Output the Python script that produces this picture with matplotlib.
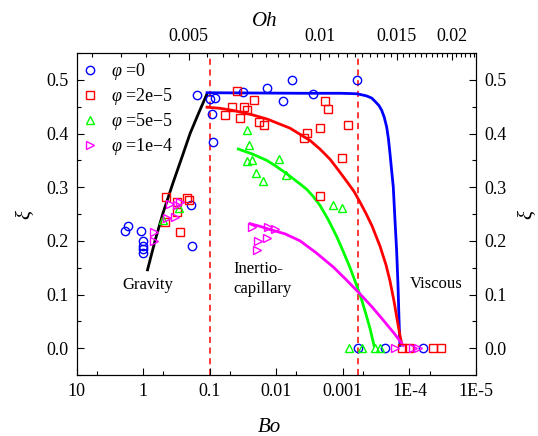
import matplotlib
matplotlib.use('Agg')
import matplotlib.pyplot as plt
import numpy as np
from matplotlib.ticker import FixedLocator, FixedFormatter, NullFormatter
from matplotlib.lines import Line2D

# Fonte tipo Times
plt.rcParams['font.family'] = 'Liberation Serif'
plt.rcParams['mathtext.fontset'] = 'custom'
plt.rcParams['mathtext.rm'] = 'Liberation Serif'
plt.rcParams['mathtext.it'] = 'Liberation Serif:italic'

# ---- pontos experimentais (Bo, xi) ----
blue_bo = [1.88, 1.68, 1.09, 1.0, 1.0, 1.0, 1.0, 0.192, 0.185, 0.157, 0.0993, 0.0836,
           0.0917, 0.0885, 0.0314, 0.01397, 0.00787, 0.00588, 0.00279, 6.08e-4,
           5.87e-4, 2.33e-4, 6.19e-5]
blue_xi = [0.219, 0.228, 0.219, 0.200, 0.191, 0.185, 0.177, 0.266, 0.191, 0.471, 0.464,
           0.467, 0.436, 0.385, 0.477, 0.484, 0.461, 0.500, 0.474, 0.500, 0.0, 0.0, 0.0]

red_bo = [0.455, 0.308, 0.222, 0.203, 0.308, 0.471, 0.281, 0.0394, 0.0214, 0.0459, 0.0306,
          0.0274, 0.0592, 0.0356, 0.018, 0.0152, 0.0035, 0.00384, 0.00221, 0.00184,
          0.00169, 8.3e-4, 1.04e-3, 0.00221, 1.31e-4, 1.0e-4, 4.38e-5, 3.36e-5]
red_xi = [0.281, 0.273, 0.280, 0.276, 0.253, 0.235, 0.216, 0.480, 0.463, 0.449, 0.449,
          0.443, 0.435, 0.429, 0.421, 0.415, 0.401, 0.392, 0.410, 0.460, 0.446, 0.415,
          0.355, 0.283, 0.0, 0.0, 0.0, 0.0]

green_bo = [0.5, 0.29, 0.0276, 0.0255, 0.0279, 0.023, 0.0204, 0.0157, 0.00906, 0.00716,
            0.00142, 1.02e-3, 8.1e-4, 5.08e-4, 3.3e-4, 2.77e-4]
green_xi = [0.238, 0.262, 0.407, 0.379, 0.348, 0.351, 0.327, 0.312, 0.353, 0.323,
            0.267, 0.261, 0.0, 0.0, 0.0, 0.0]

mag_bo = [0.689, 0.689, 0.445, 0.333, 0.396, 0.311, 0.281, 0.023, 0.0132, 0.0105, 0.0187,
          0.014, 0.0197, 1.65e-4, 8.85e-5, 7.43e-5]
mag_xi = [0.216, 0.200, 0.243, 0.244, 0.269, 0.266, 0.272, 0.225, 0.225, 0.222, 0.200,
          0.206, 0.183, 0.0, 0.0, 0.0]

# ---- curvas do modelo (Bo, xi) ----
black_bo = [0.863, 0.666, 0.505, 0.353, 0.262, 0.198, 0.145, 0.110]
black_xi = [0.146, 0.200, 0.252, 0.310, 0.356, 0.400, 0.440, 0.474]

bluec_bo = [0.110, 4.41e-3, 1.106e-3, 7.82e-4, 6.14e-4, 5.16e-4, 4.39e-4, 3.69e-4,
            3.18e-4, 2.87e-4, 2.61e-4, 2.39e-4, 2.20e-4, 2.07e-4, 1.96e-4, 1.85e-4,
            1.75e-4, 1.65e-4, 1.56e-4, 1.49e-4, 1.44e-4, 1.39e-4]
bluec_xi = [0.476, 0.475, 0.475, 0.4745, 0.474, 0.472, 0.470, 0.466, 0.458, 0.452,
            0.443, 0.430, 0.412, 0.390, 0.362, 0.330, 0.300, 0.238, 0.182, 0.120,
            0.058, 0.005]

redc_bo = [0.110, 0.0703, 0.0448, 0.0249, 0.0138, 6.24e-3, 3.12e-3, 2.21e-3, 1.56e-3,
           1.19e-3, 8.67e-4, 6.81e-4, 5.53e-4, 4.50e-4, 3.66e-4, 2.77e-4, 2.25e-4,
           1.96e-4, 1.71e-4, 1.54e-4, 1.41e-4, 1.31e-4]
redc_xi = [0.449, 0.447, 0.443, 0.436, 0.427, 0.410, 0.387, 0.371, 0.352, 0.333, 0.310,
           0.292, 0.272, 0.251, 0.228, 0.190, 0.155, 0.125, 0.088, 0.055, 0.028, 0.008]

greenc_bo = [0.0373, 0.0232, 0.01396, 0.0101, 6.98e-3, 4.41e-3, 3.50e-3, 2.81e-3, 2.21e-3,
             1.67e-3, 1.24e-3, 9.96e-4, 7.82e-4, 6.35e-4, 5.22e-4, 4.50e-4, 3.92e-4,
             3.41e-4]
greenc_xi = [0.371, 0.362, 0.350, 0.339, 0.325, 0.306, 0.296, 0.283, 0.266, 0.240, 0.208,
             0.181, 0.150, 0.120, 0.090, 0.063, 0.037, 0.005]

magc_bo = [0.0249, 0.0176, 0.0132, 7.41e-3, 4.41e-3, 2.54e-3, 1.39e-3, 8.67e-4, 5.53e-4,
           3.66e-4, 2.47e-4, 1.71e-4, 1.24e-4]
magc_xi = [0.232, 0.227, 0.222, 0.213, 0.200, 0.178, 0.151, 0.126, 0.101, 0.077, 0.052,
           0.028, 0.005]

# limites dos regimes
bo_limits = [0.1, 6.0e-4]

# eixos
bo_ticks = [10, 1, 0.1, 0.01, 0.001, 1e-4, 1e-5]
bo_ticklabels = ['10', '1', '0.1', '0.01', '0.001', '1E-4', '1E-5']
bo_minor = [5, 0.5, 0.05, 0.005, 5e-4, 5e-5]
oh_ticks = [0.005, 0.01, 0.015, 0.02]
oh_ticklabels = ['0.005', '0.01', '0.015', '0.02']
legend_labels = ['$\\varphi$ =0', '$\\varphi$ =2e\u22125', '$\\varphi$ =5e\u22125',
                 '$\\varphi$ =1e\u22124']

BLUE, RED, GREEN, MAG = '#0000FF', '#FF0000', '#00FF00', '#FF00FF'

fig = plt.figure(figsize=(5.38, 4.36), dpi=100)
ax = fig.add_axes([0.1426, 0.1399, 0.7422, 0.7385])

# linhas tracejadas
for b in bo_limits:
    ax.axvline(b, color=RED, ls=(0, (4, 3)), lw=1.1, zorder=1)

# curvas
ax.plot(black_bo, black_xi, color='black', lw=2.0, zorder=2)
ax.plot(bluec_bo, bluec_xi, color=BLUE, lw=2.0, zorder=2)
ax.plot(redc_bo, redc_xi, color=RED, lw=2.0, zorder=2)
ax.plot(greenc_bo, greenc_xi, color=GREEN, lw=2.0, zorder=2)
ax.plot(magc_bo, magc_xi, color=MAG, lw=2.0, zorder=2)

# pontos
mk = dict(ls='none', mfc='none', mew=1.0, ms=6, zorder=3)
ax.plot(blue_bo, blue_xi, marker='o', color=BLUE, **mk)
ax.plot(red_bo, red_xi, marker='s', color=RED, **mk)
ax.plot(green_bo, green_xi, marker='^', color=GREEN, **mk)
ax.plot(mag_bo, mag_xi, marker='>', color=MAG, **mk)

ax.set_xscale('log')
ax.set_xlim(10, 1e-5)
ax.set_ylim(-0.05, 0.55)
ax.xaxis.set_major_locator(FixedLocator(bo_ticks))
ax.xaxis.set_major_formatter(FixedFormatter(bo_ticklabels))
ax.xaxis.set_minor_locator(FixedLocator(bo_minor))
ax.xaxis.set_minor_formatter(NullFormatter())
ax.yaxis.set_major_locator(FixedLocator([0.0, 0.1, 0.2, 0.3, 0.4, 0.5]))
ax.yaxis.set_minor_locator(FixedLocator([-0.05, 0.05, 0.15, 0.25, 0.35, 0.45, 0.55]))
ax.yaxis.set_major_formatter(FixedFormatter(['0.0', '0.1', '0.2', '0.3', '0.4', '0.5']))
ax.tick_params(which='both', direction='in', labelsize=13, width=0.8,
               bottom=True, left=True, right=True, top=False, labelright=True)
ax.tick_params(which='major', length=5, pad=6)
ax.tick_params(which='minor', length=3)
for s in ax.spines.values():
    s.set_linewidth(0.8)

ax.set_xlabel('Bo', fontsize=15, style='italic')
ax.xaxis.set_label_coords(0.482, -0.135)
ax.set_ylabel('ξ', fontsize=15, style='italic', labelpad=8)
ax.text(1.13, 0.5, 'ξ', transform=ax.transAxes, fontsize=15, style='italic',
        rotation=90, ha='center', va='center')

# eixo superior Oh
ax3 = ax.twiny()
ax3.set_xscale('log')
ax3.set_xlim(0.00277, 0.02276)
ax3.xaxis.set_major_locator(FixedLocator(oh_ticks))
ax3.xaxis.set_major_formatter(FixedFormatter(oh_ticklabels))
oh_minor = [v for v in np.arange(0.003, 0.0226, 0.0005)
            if min(abs(v - t) for t in oh_ticks) > 1e-6]
ax3.xaxis.set_minor_locator(FixedLocator(oh_minor))
ax3.xaxis.set_minor_formatter(NullFormatter())
ax3.tick_params(which='both', direction='in', labelsize=13, width=0.8)
ax3.tick_params(which='major', length=5, pad=6)
ax3.tick_params(which='minor', length=3)
ax3.set_xlabel('Oh', fontsize=15, style='italic')
ax3.xaxis.set_label_coords(0.472, 1.084)

# textos dos regimes
ax.text(0.86, 0.117, 'Gravity', fontsize=12, ha='center', va='center')
ax.text(0.045, 0.147, 'Inertio-', fontsize=12, ha='left', va='center')
ax.text(0.045, 0.110, 'capillary', fontsize=12, ha='left', va='center')
ax.text(3.9e-5, 0.12, 'Viscous', fontsize=12, ha='center', va='center')

# legenda
handles = [Line2D([], [], ls='none', marker=m, mfc='none', mec=c, mew=1.0, ms=6)
           for m, c in zip(['o', 's', '^', '>'], [BLUE, RED, GREEN, MAG])]
ax.legend(handles, legend_labels, loc='upper left', bbox_to_anchor=(0.01, 0.975),
          frameon=False, fontsize=13, handlelength=1.0, handletextpad=0.7,
          labelspacing=0.22, borderpad=0, borderaxespad=0)

fig.savefig('out.png', dpi=100)
